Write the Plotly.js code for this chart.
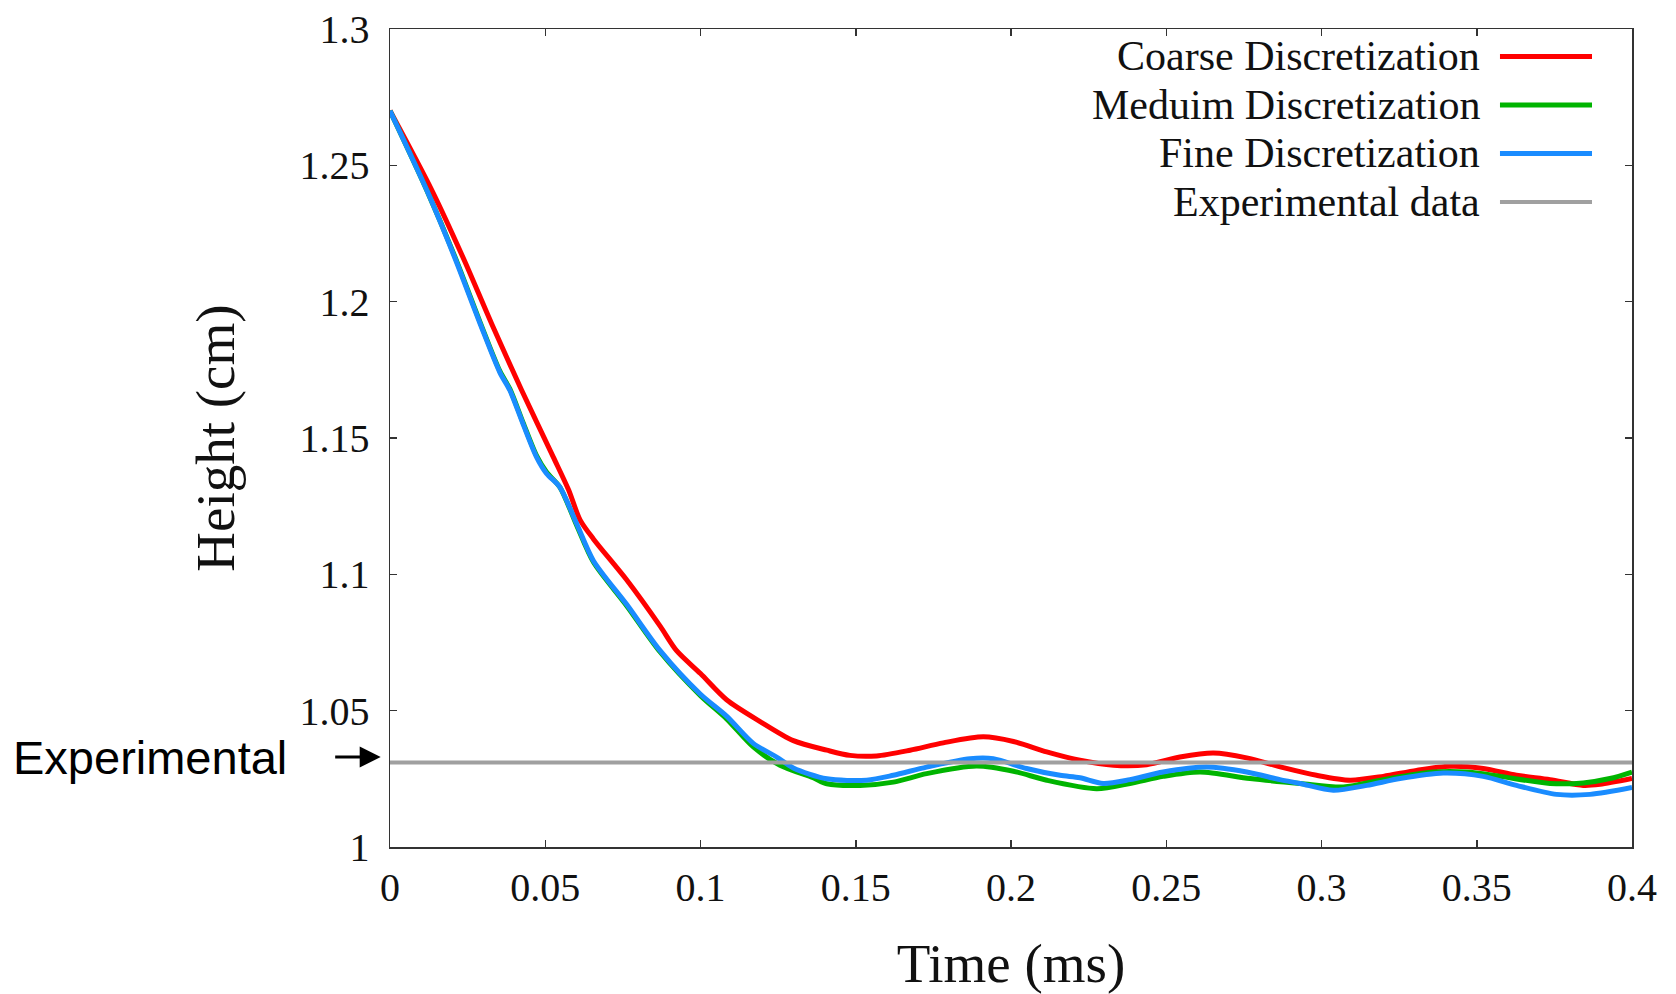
<!DOCTYPE html>
<html>
<head>
<meta charset="utf-8">
<script src="https://cdn.plot.ly/plotly-3.0.1.min.js"></script>
<style>
  html, body { margin: 0; padding: 0; background: #ffffff; }
  #chart { width: 1676px; height: 994px; }
</style>
</head>
<body>
<div id="chart"></div>
<script>
// ---- Data ----
const coarseTime = [0, 0.0134, 0.0236, 0.0327, 0.0424, 0.0526, 0.0575, 0.0612, 0.0655, 0.0762, 0.087, 0.0923, 0.1, 0.1084, 0.1192, 0.1299, 0.1407, 0.1481, 0.1567, 0.1675, 0.1782, 0.1911, 0.2008, 0.2115, 0.2222, 0.233, 0.2437, 0.2544, 0.2652, 0.2759, 0.2877, 0.2984, 0.3092, 0.3199, 0.3306, 0.3414, 0.3521, 0.3628, 0.3736, 0.3843, 0.3897, 0.4];
const coarseHeight = [1.270, 1.241, 1.216, 1.192, 1.1675, 1.143, 1.131, 1.120, 1.113, 1.098, 1.081, 1.072, 1.0636, 1.054, 1.046, 1.039, 1.0355, 1.0336, 1.0334, 1.0355, 1.0382, 1.0404, 1.0387, 1.0349, 1.0318, 1.0300, 1.0302, 1.0330, 1.0345, 1.0327, 1.0291, 1.0263, 1.0245, 1.0259, 1.0281, 1.0296, 1.0288, 1.0263, 1.0247, 1.0226, 1.0230, 1.0251];

const mediumTime = [0, 0.0118, 0.0209, 0.029, 0.0354, 0.0386, 0.0429, 0.0472, 0.0504, 0.0547, 0.0601, 0.0655, 0.0762, 0.087, 0.1, 0.1084, 0.117, 0.1256, 0.1363, 0.1407, 0.1514, 0.1621, 0.1728, 0.1889, 0.2008, 0.2115, 0.2276, 0.2383, 0.249, 0.2609, 0.277, 0.2931, 0.307, 0.3199, 0.336, 0.3468, 0.3575, 0.3736, 0.3843, 0.3929, 0.4];
const mediumHeight = [1.270, 1.241, 1.2165, 1.1925, 1.1745, 1.168, 1.1555, 1.1435, 1.1375, 1.132, 1.118, 1.1045, 1.0885, 1.0715, 1.0555, 1.047, 1.0367, 1.030, 1.0254, 1.0232, 1.0226, 1.0238, 1.0269, 1.0297, 1.0278, 1.0245, 1.0214, 1.0233, 1.0259, 1.0275, 1.0251, 1.0233, 1.0220, 1.0247, 1.0275, 1.0275, 1.0259, 1.0233, 1.0235, 1.0251, 1.0275];

const fineTime = [0, 0.0118, 0.0209, 0.029, 0.0354, 0.0386, 0.0429, 0.0472, 0.0504, 0.0547, 0.0601, 0.0655, 0.0762, 0.087, 0.1, 0.1084, 0.117, 0.1245, 0.1299, 0.1407, 0.1535, 0.1621, 0.1728, 0.1868, 0.1943, 0.205, 0.2158, 0.2222, 0.2297, 0.2383, 0.249, 0.263, 0.2759, 0.2866, 0.2931, 0.3038, 0.3146, 0.3253, 0.3392, 0.3521, 0.3628, 0.3757, 0.3865, 0.4];
const fineHeight = [1.270, 1.241, 1.216, 1.192, 1.174, 1.1675, 1.155, 1.143, 1.137, 1.132, 1.1186, 1.105, 1.089, 1.072, 1.056, 1.048, 1.038, 1.033, 1.029, 1.025, 1.0245, 1.0263, 1.0293, 1.0324, 1.0324, 1.0288, 1.0263, 1.0254, 1.0233, 1.0247, 1.0275, 1.0293, 1.0275, 1.0247, 1.0233, 1.0208, 1.0226, 1.0251, 1.0271, 1.0259, 1.0226, 1.0193, 1.0193, 1.0218];

const experimentalTime = [0, 0.4];
const experimentalHeight = [1.031, 1.031];

const seriesNames = ["Coarse Discretization", "Meduim Discretization", "Fine Discretization", "Experimental data"];
const seriesColors = ["#ff0000", "#00b400", "#1a8cff", "#a0a0a0"];

const xTickVals = [0, 0.05, 0.1, 0.15, 0.2, 0.25, 0.3, 0.35, 0.4];
const xTickText = ["0", "0.05", "0.1", "0.15", "0.2", "0.25", "0.3", "0.35", "0.4"];
const yTickVals = [1, 1.05, 1.1, 1.15, 1.2, 1.25, 1.3];
const yTickText = ["1", "1.05", "1.1", "1.15", "1.2", "1.25", "1.3"];

// ---- Plot ----
const serif = "Liberation Serif, Times New Roman, serif";
const sans = "Liberation Sans, Arial, sans-serif";

function line(x, y, i, w, spline) {
  return {
    type: "scatter", mode: "lines", x: x, y: y, name: seriesNames[i],
    line: { color: seriesColors[i], width: w, shape: spline ? "spline" : "linear", smoothing: 0.8 },
    showlegend: false, hoverinfo: "x+y+name"
  };
}

const traces = [
  line(coarseTime, coarseHeight, 0, 5, true),
  line(mediumTime, mediumHeight, 1, 5, true),
  line(fineTime, fineHeight, 2, 5, true),
  line(experimentalTime, experimentalHeight, 3, 4, false)
];

// custom legend (text on the left, sample line on the right)
const legendY = [0.9664, 0.9071, 0.8478, 0.7885];
const annotations = [];
const shapes = [];
seriesNames.forEach((n, i) => {
  annotations.push({
    xref: "paper", yref: "paper", x: 0.8792, y: legendY[i],
    xanchor: "right", yanchor: "middle", showarrow: false,
    text: n, font: { family: serif, size: 42, color: "#111" }
  });
  shapes.push({
    type: "line", xref: "paper", yref: "paper",
    x0: 0.8937, x1: 0.9678, y0: legendY[i], y1: legendY[i],
    line: { color: seriesColors[i], width: i === 3 ? 4 : 5 }
  });
});

// "Experimental" label with arrow
annotations.push({
  xref: "paper", yref: "y", x: -0.0813, y: experimentalHeight[0] + 0.0017,
  xanchor: "right", yanchor: "middle", showarrow: false,
  text: "Experimental", font: { family: sans, size: 47, color: "#000" }
});
annotations.push({
  xref: "paper", yref: "y", x: -0.0075, y: experimentalHeight[0] + 0.002,
  text: "", showarrow: true, ax: -47, ay: 0, axref: "pixel", ayref: "pixel",
  arrowhead: 2, arrowsize: 1.4, arrowwidth: 3, arrowcolor: "#000"
});

const axisCommon = {
  showgrid: false, zeroline: false,
  showline: true, linecolor: "#333", linewidth: 1.5, mirror: "ticks",
  ticks: "inside", ticklen: 7, tickwidth: 1.5, tickcolor: "#333",
  tickfont: { family: serif, size: 40, color: "#111" }
};

const layout = {
  width: 1676, height: 994,
  margin: { l: 390, r: 44, t: 29, b: 147 },
  paper_bgcolor: "#ffffff", plot_bgcolor: "#ffffff",
  showlegend: false,
  xaxis: Object.assign({}, axisCommon, {
    range: [0, 0.4], tickmode: "array", tickvals: xTickVals, ticktext: xTickText,
    ticklabelstandoff: 4,
    title: { text: "Time (ms)", font: { family: serif, size: 55, color: "#111" }, standoff: 43 }
  }),
  yaxis: Object.assign({}, axisCommon, {
    range: [1.0, 1.3], tickmode: "array", tickvals: yTickVals, ticktext: yTickText,
    ticklabelstandoff: 11,
    title: { text: "Height (cm)", font: { family: serif, size: 55, color: "#111" }, standoff: 47 }
  }),
  annotations: annotations,
  shapes: shapes
};

Plotly.newPlot("chart", traces, layout, { displayModeBar: false, staticPlot: true });
</script>
</body>
</html>
